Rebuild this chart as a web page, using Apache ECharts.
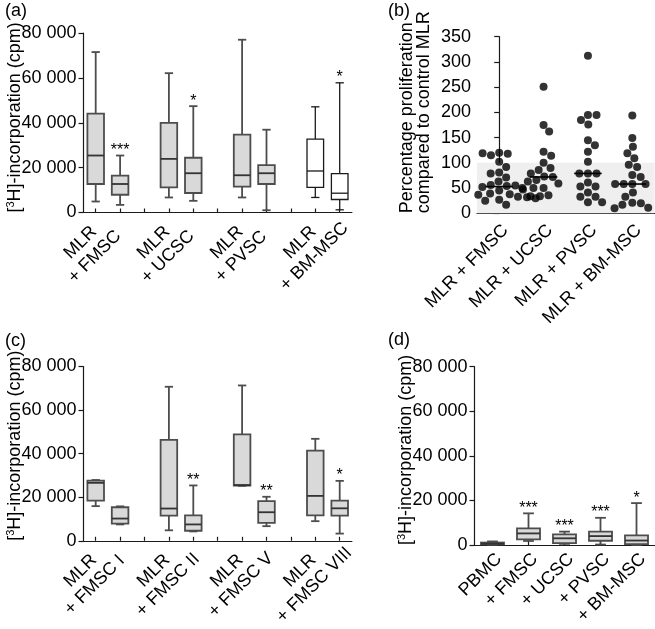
<!DOCTYPE html>
<html><head><meta charset="utf-8">
<script src="https://cdn.jsdelivr.net/npm/echarts@6/dist/echarts.min.js"></script>
<style>html,body{margin:0;padding:0;background:#fff}#c{width:655px;height:629px}</style>
</head><body><div id="c"></div><script>
// ---------- DATA ----------
// Panel (a)
const catsA = ['MLR', '+ FMSC', '', 'MLR', '+ UCSC', '', 'MLR', '+ PVSC', '', 'MLR', '+ BM-MSC'];
const minA = [4900, 3400, null, 6700, 5200, null, 6700, 1000, null, 6700, 1200];
const q1A  = [12700, 7900, null, 11200, 8700, null, 11500, 12700, null, 11200, 5800];
const medA = [25400, 12700, null, 23900, 17500, null, 16600, 17500, null, 18500, 8600];
const q3A  = [44100, 16400, null, 39900, 24400, null, 34700, 21100, null, 32700, 17300];
const maxA = [71500, 25400, null, 62100, 47400, null, 77000, 36900, null, 47100, 57800];
const sigA = ['', '***', '', '', '*', '', '', '', '', '', '*'];

// Panel (b)
const catsB = ['MLR + FMSC', 'MLR + UCSC', 'MLR + PVSC', 'MLR + BM-MSC'];
const ptsFMSC = [120, 118, 115, 119, 102, 92, 81, 79, 71, 63, 56, 54, 55, 52, 47, 45, 39, 38, 37, 33, 32, 31, 30, 27, 26, 25, 17];
const ptsUCSC = [251, 175, 162, 122, 114, 100, 90, 86, 79, 73, 72, 66, 63, 59, 50, 50, 50, 36, 34, 34];
const ptsPVSC = [312, 195, 195, 185, 176, 145, 135, 122, 102, 79, 79, 79, 61, 53, 53, 41, 33, 33, 22, 22];
const ptsBM   = [194, 149, 132, 119, 109, 96, 92, 76, 72, 58, 58, 58, 58, 41, 33, 21, 20, 17, 11, 10, 6];
const medB = [53, 72, 79, 58];
const bandB = [0, 100];

// Panel (c)
const catsC = ['MLR', '+ FMSC I', '', 'MLR', '+ FMSC II', '', 'MLR', '+ FMSC V', '', 'MLR', '+ FMSC VIII'];
const minC = [15900, 7500, null, 4800, 4300, null, 25200, 6700, null, 9000, 3300];
const q1C  = [18400, 7900, null, 11500, 4600, null, 25300, 8200, null, 11700, 11500];
const medC = [26600, 10200, null, 14800, 7500, null, 25600, 13100, null, 20600, 14900];
const q3C  = [27600, 15400, null, 46300, 11700, null, 48800, 18200, null, 41400, 18400];
const maxC = [27900, 15800, null, 70700, 25400, null, 71300, 20200, null, 46800, 27500];
const sigC = ['', '', '', '', '**', '', '', '**', '', '', '*'];

// Panel (d)
const catsD = ['PBMC', '+ FMSC', '+ UCSC', '+ PVSC', '+ BM-MSC'];
const minD = [100, 1800, 500, 200, 0];
const q1D  = [300, 2500, 800, 1900, 400];
const medD = [600, 5200, 3000, 4000, 2000];
const q3D  = [1100, 7500, 4800, 6000, 4300];
const maxD = [1600, 14200, 6000, 12200, 18800];
const sigD = ['', '***', '***', '***', '*'];

// ---------- HELPERS ----------
const FONT = '"Liberation Sans", Arial, sans-serif';
const LINE = {color: '#1a1a1a', width: 1.2};

function boxData(cats, mn, q1, md, q3, mx) {
  const out = [];
  cats.forEach((c, i) => { if (mn[i] != null) out.push([i, mn[i], q1[i], md[i], q3[i], mx[i]]); });
  return out;
}

function boxRenderer(sig, whiteFrom, boxFrac, capFrac) {
  return function (params, api) {
    const i = api.value(0);
    const y = v => api.coord([i, v])[1];
    const x = api.coord([i, 0])[0];
    const yLo = y(api.value(1)), yQ1 = y(api.value(2)), yMd = y(api.value(3)), yQ3 = y(api.value(4)), yHi = y(api.value(5));
    const slot = api.size([1, 0])[0];
    const bw = slot * boxFrac, cw = slot * capFrac;
    const white = whiteFrom != null && i >= whiteFrom;
    const stroke = white ? '#1a1a1a' : '#4d4d4d';
    const lw = white ? 1.3 : 1.8;
    const ls = {stroke: stroke, lineWidth: lw};
    const ch = [
      {type: 'line', shape: {x1: x, y1: yQ3, x2: x, y2: yHi}, style: ls},
      {type: 'line', shape: {x1: x, y1: yQ1, x2: x, y2: yLo}, style: ls},
      {type: 'line', shape: {x1: x - cw / 2, y1: yHi, x2: x + cw / 2, y2: yHi}, style: ls},
      {type: 'line', shape: {x1: x - cw / 2, y1: yLo, x2: x + cw / 2, y2: yLo}, style: ls},
      {type: 'rect', shape: {x: x - bw / 2, y: yQ3, width: bw, height: Math.max(yQ1 - yQ3, 0.5)},
        style: {fill: white ? '#ffffff' : '#d9d9d9', stroke: stroke, lineWidth: lw}},
      {type: 'line', shape: {x1: x - bw / 2, y1: yMd, x2: x + bw / 2, y2: yMd},
        style: {stroke: white ? '#1a1a1a' : '#333333', lineWidth: lw}}
    ];
    const s = sig[i];
    if (s) ch.push({type: 'text', x: x, y: yHi + 3,
      style: {text: s, align: 'center', verticalAlign: 'bottom', font: '16px ' + FONT, fill: '#000'}});
    return {type: 'group', children: ch};
  };
}

// simple deterministic beeswarm layout (pixel units -> category units)
function swarm(vals, dPx, yScale, xScale) {
  const placed = [];
  return vals.map(v => {
    const yy = v * yScale;
    const cands = [0];
    placed.forEach(p => {
      const dy = yy - p.y;
      if (Math.abs(dy) < dPx) {
        const dx = Math.sqrt(dPx * dPx - dy * dy);
        cands.push(p.x + dx, p.x - dx);
      }
    });
    cands.sort((a, b) => Math.abs(a) - Math.abs(b));
    const xx = cands.find(c => placed.every(p => (c - p.x) * (c - p.x) + (yy - p.y) * (yy - p.y) >= dPx * dPx - 1e-6));
    placed.push({x: xx, y: yy});
    return xx / xScale;
  });
}

const groupsB = [ptsFMSC, ptsUCSC, ptsPVSC, ptsBM];
const scatterB = [];
groupsB.forEach((g, gi) => {
  const offs = swarm(g, 8.6, 176.6 / 350, 44.4);
  g.forEach((v, k) => scatterB.push([gi + offs[k], v]));
});

const kFmt = v => v === 0 ? '0' : (v / 1000) + ' 000';

function yAxisBox(gi, nameText, pad) {
  return {
    gridIndex: gi, type: 'value', min: 0, max: 80000, interval: 20000,
    axisLine: {show: true, lineStyle: LINE},
    axisTick: {show: true, length: 5, lineStyle: LINE},
    axisLabel: {fontSize: 18, color: '#000', margin: 7, fontFamily: FONT, formatter: kFmt},
    splitLine: {show: false},
    name: nameText, nameLocation: 'start', nameGap: 0, nameRotate: 90, nameMoveOverlap: false,
    nameTextStyle: {fontSize: 18, color: '#000', fontFamily: FONT, align: 'left', verticalAlign: 'bottom',
      lineHeight: 20, padding: [0, 0, pad, 0],
      rich: {s: {fontSize: 11, lineHeight: 12, verticalAlign: 'top', fontFamily: FONT, color: '#000'}}}
  };
}

function xAxisPair(gi, cats) {
  return {
    gridIndex: gi, type: 'category', data: cats, boundaryGap: true,
    axisLine: {show: true, lineStyle: LINE},
    axisTick: {show: true, alignWithLabel: true, interval: 0, inside: true, length: 4, lineStyle: LINE},
    axisLabel: {interval: 0, rotate: 45, fontSize: 18, color: '#000', fontFamily: FONT,
      align: 'center', verticalAlign: 'middle', lineHeight: 20, padding: [0, 23, 0, 0], margin: 29,
      formatter: (v, i) => (i % 3 === 0 ? cats[i] + '\n' + cats[i + 1] : '')},
    splitLine: {show: false}
  };
}

function xAxisSingle(gi, cats, margin) {
  return {
    gridIndex: gi, type: 'category', data: cats, boundaryGap: true,
    axisLine: {show: true, lineStyle: LINE},
    axisTick: {show: true, alignWithLabel: true, interval: 0, inside: true, length: 4, lineStyle: LINE},
    axisLabel: {interval: 0, rotate: 45, fontSize: 18, color: '#000', fontFamily: FONT,
      align: 'right', verticalAlign: 'top', lineHeight: 18, margin: margin},
    splitLine: {show: false}
  };
}

const chart = echarts.init(document.getElementById('c'), null, {renderer: 'canvas'});
const titleStyle = {fontSize: 18, fontWeight: 'normal', color: '#000', fontFamily: FONT};
chart.setOption({
  animation: false,
  backgroundColor: '#fff',
  textStyle: {fontFamily: FONT},
  title: [
    {text: '(a)', left: 5, top: 2, textStyle: titleStyle, padding: 0},
    {text: '(b)', left: 388, top: 2, textStyle: titleStyle, padding: 0},
    {text: '(c)', left: 5, top: 332, textStyle: titleStyle, padding: 0},
    {text: '(d)', left: 388, top: 331, textStyle: titleStyle, padding: 0}
  ],
  grid: [
    {left: 83.5, top: 33, width: 268.4, height: 179.5},
    {left: 477, top: 36.7, width: 177.5, height: 176.6},
    {left: 83.5, top: 366.5, width: 268.4, height: 178.5},
    {left: 474.5, top: 366.7, width: 180, height: 178.3}
  ],
  xAxis: [
    xAxisPair(0, catsA),
    xAxisSingle(1, catsB, 8),
    {gridIndex: 1, type: 'value', min: -0.5, max: 3.5, show: false},
    xAxisPair(2, catsC),
    xAxisSingle(3, catsD, 5)
  ],
  yAxis: [
    yAxisBox(0, '[{s|3}H]-incorporation (cpm)', 58),
    {
      gridIndex: 1, type: 'value', min: 0, max: 350, interval: 50,
      axisLine: {show: true, lineStyle: LINE},
      axisTick: {show: true, length: 5, lineStyle: LINE},
      axisLabel: {fontSize: 18, color: '#000', margin: 6, fontFamily: FONT},
      splitLine: {show: false},
      name: 'Percentage proliferation\ncompared to control MLR', nameLocation: 'start', nameGap: 0, nameRotate: 90,
      nameMoveOverlap: false,
      nameTextStyle: {fontSize: 18, color: '#000', fontFamily: FONT, align: 'left', verticalAlign: 'bottom',
        lineHeight: 17, padding: [0, 0, 67, 0]}
    },
    yAxisBox(2, '[{s|3}H]-incorporation (cpm)', 58),
    yAxisBox(3, '[{s|3}H]-incorporation (cpm)', 58)
  ],
  series: [
    {type: 'custom', xAxisIndex: 0, yAxisIndex: 0, silent: true, clip: false,
      data: boxData(catsA, minA, q1A, medA, q3A, maxA), encode: {x: 0, y: [1, 2, 3, 4, 5]},
      renderItem: boxRenderer(sigA, 9, 0.68, 0.34)},
    {type: 'scatter', xAxisIndex: 2, yAxisIndex: 1, silent: true, data: scatterB,
      symbol: 'circle', symbolSize: 8, itemStyle: {color: '#000'},
      markArea: {silent: true, itemStyle: {color: '#efefef'}, data: [[{yAxis: bandB[0]}, {yAxis: bandB[1]}]]}},
    {type: 'custom', xAxisIndex: 1, yAxisIndex: 1, silent: true, clip: false,
      data: medB.map((m, i) => [i, m]), encode: {x: 0, y: 1},
      renderItem: function (params, api) {
        const p = api.coord([api.value(0), api.value(1)]);
        const w = api.size([1, 0])[0] * 0.62;
        return {type: 'line', shape: {x1: p[0] - w / 2, y1: p[1], x2: p[0] + w / 2, y2: p[1]},
          style: {stroke: '#000', lineWidth: 1.6}};
      }},
    {type: 'custom', xAxisIndex: 3, yAxisIndex: 2, silent: true, clip: false,
      data: boxData(catsC, minC, q1C, medC, q3C, maxC), encode: {x: 0, y: [1, 2, 3, 4, 5]},
      renderItem: boxRenderer(sigC, null, 0.68, 0.34)},
    {type: 'custom', xAxisIndex: 4, yAxisIndex: 3, silent: true, clip: false,
      data: boxData(catsD, minD, q1D, medD, q3D, maxD), encode: {x: 0, y: [1, 2, 3, 4, 5]},
      renderItem: boxRenderer(sigD, null, 0.64, 0.3)}
  ]
});
</script></body></html>
